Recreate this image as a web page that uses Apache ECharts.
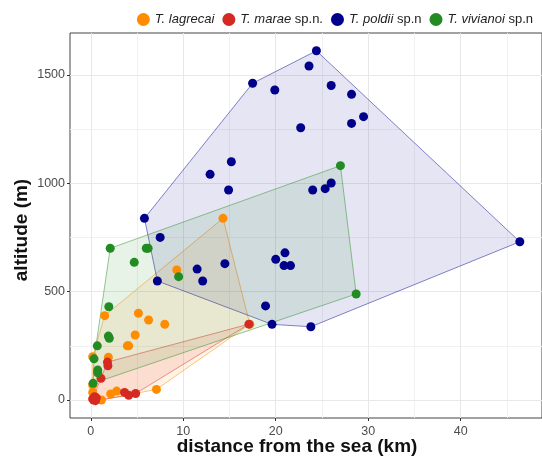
<!DOCTYPE html>
<html><head><meta charset="utf-8">
<script src="https://cdn.jsdelivr.net/npm/echarts@6/dist/echarts.min.js"></script>
<style>html,body{margin:0;padding:0;background:#fff}#c{width:542px;height:457px}</style>
</head><body><div id="c"></div>
<script>
// species names
const species = ['T. lagrecai', 'T. marae', 'T. poldii', 'T. vivianoi'];
const speciesSuffix = ['', ' sp.n.', ' sp.n', ' sp.n'];
const colors = ['#FF8C00', '#D42A22', '#00008B', '#228B22'];

// [distance km, altitude m]
const lagrecai = [[14.3,838],[9.3,600],[1.5,389],[5.15,400],[6.25,369],[8.0,349],[4.8,300],[3.95,250],[4.1,250],
  [1.9,197],[0.2,200],[0.2,69],[0.2,35],[2.15,28],[2.8,41],[7.1,49],[1.15,0],[0.3,10],[17.2,350],[0.6,5]];
const marae = [[17.1,350],[1.8,175],[1.85,158],[1.1,100],[3.65,35],[4.1,22],[4.85,30],[0.2,5],[0.4,15],[0.6,10],[0.3,0],[0.5,-3]];
const poldii = [[24.4,1611],[23.6,1541],[17.5,1461],[19.9,1430],[26.0,1451],[28.2,1410],[29.5,1307],[28.2,1276],[22.7,1256],
  [15.2,1099],[12.9,1041],[14.9,969],[24.0,969],[25.35,975],[26.0,1001],[5.8,838],[7.5,750],[7.2,549],[11.5,604],[12.1,549],
  [14.5,629],[18.9,434],[19.6,349],[23.8,338],[46.4,730],[20.0,649],[21.0,679],[20.9,620],[21.6,620]];
const vivianoi = [[27.0,1081],[28.7,489],[2.1,700],[6.0,700],[6.2,700],[4.7,635],[9.5,569],[1.95,430],[1.9,295],[2.0,285],
  [0.7,250],[0.35,190],[0.75,138],[0.75,126],[0.25,77]];
const groups = [lagrecai, marae, poldii, vivianoi];

// tick labels
const xTicks = [0, 10, 20, 30, 40];
const xMinor = [5, 15, 25, 35, 45];
const yTicks = [0, 500, 1000, 1500];
const yMinor = [250, 750, 1250];

function hull(pts) {
  const p = pts.slice().sort((a, b) => a[0] - b[0] || a[1] - b[1]);
  const cross = (o, a, b) => (a[0]-o[0])*(b[1]-o[1]) - (a[1]-o[1])*(b[0]-o[0]);
  const lower = [], upper = [];
  for (const q of p) { while (lower.length >= 2 && cross(lower[lower.length-2], lower[lower.length-1], q) <= 0) lower.pop(); lower.push(q); }
  for (let i = p.length - 1; i >= 0; i--) { const q = p[i]; while (upper.length >= 2 && cross(upper[upper.length-2], upper[upper.length-1], q) <= 0) upper.pop(); upper.push(q); }
  upper.pop(); lower.pop();
  return lower.concat(upper);
}

function rgba(hex, a) {
  const n = parseInt(hex.slice(1), 16);
  return 'rgba(' + (n >> 16 & 255) + ',' + (n >> 8 & 255) + ',' + (n & 255) + ',' + a + ')';
}

const series = [];
// grid lines
const gridLines = [];
xMinor.forEach(v => gridLines.push({xAxis: v, lineStyle: {color: '#f1f1f1', width: 1}}));
yMinor.forEach(v => gridLines.push({yAxis: v, lineStyle: {color: '#f1f1f1', width: 1}}));
xTicks.forEach(v => gridLines.push({xAxis: v, lineStyle: {color: '#e8e8e8', width: 1}}));
yTicks.forEach(v => gridLines.push({yAxis: v, lineStyle: {color: '#e8e8e8', width: 1}}));
series.push({
  type: 'scatter', name: 'grid', data: [], silent: true, z: 0,
  markLine: {silent: true, symbol: 'none', label: {show: false}, animation: false, z: 0,
    lineStyle: {type: 'solid'}, data: gridLines}
});

groups.forEach((g, i) => {
  const h = hull(g);
  series.push({
    type: 'custom', name: 'hull' + i, silent: true, z: 1, clip: true,
    data: [[g[0][0], g[0][1]]],
    renderItem: function (params, api) {
      return {
        type: 'polygon',
        shape: {points: h.map(p => api.coord(p))},
        style: {fill: rgba(colors[i], 0.1), stroke: rgba(colors[i], 0.6), lineWidth: 0.8}
      };
    }
  });
});
groups.forEach((g, i) => {
  series.push({
    type: 'scatter', name: species[i], data: g, symbolSize: 9, z: 3,
    itemStyle: {color: colors[i], opacity: 1}
  });
});

const chart = echarts.init(document.getElementById('c'), null, {renderer: 'canvas'});
chart.setOption({
  animation: false,
  backgroundColor: '#fff',
  textStyle: {fontFamily: 'Liberation Sans'},
  grid: {left: 70, top: 33, right: -9, bottom: 39, show: true, borderColor: '#444', borderWidth: 1, backgroundColor: '#fff'},
  legend: {
    data: species, right: 4, top: 8, itemWidth: 13, itemHeight: 13, itemGap: 8, icon: 'circle',
    textStyle: {fontSize: 13, color: '#222', fontFamily: 'Liberation Sans',
      rich: {i: {fontStyle: 'italic', fontSize: 13, color: '#222'}, n: {fontSize: 13, color: '#222'}}},
    formatter: function (name) {
      const k = species.indexOf(name);
      return '{i|' + name + '}' + (speciesSuffix[k] ? '{n|' + speciesSuffix[k] + '}' : '');
    }
  },
  xAxis: {
    type: 'value', min: -2.25, max: 48.8,
    axisLine: {show: false, onZero: false},
    splitLine: {show: false},
    axisTick: {show: true, inside: false, customValues: xTicks, length: 3, lineStyle: {color: '#333'}},
    axisLabel: {customValues: xTicks, color: '#4d4d4d', fontSize: 12.5, margin: 7, formatter: v => String(v)}
  },
  yAxis: {
    type: 'value', min: -83, max: 1693,
    axisLine: {show: false, onZero: false},
    splitLine: {show: false},
    axisTick: {show: true, inside: false, customValues: yTicks, length: 3, lineStyle: {color: '#333'}},
    axisLabel: {customValues: yTicks, color: '#4d4d4d', fontSize: 12.5, margin: 5, formatter: v => String(v)}
  },
  graphic: [
    {type: 'text', x: 297, y: 447, style: {text: 'distance from the sea (km)', x: 0, y: 0, align: 'center', verticalAlign: 'middle',
      font: 'bold 19px "Liberation Sans"', fill: '#111'}},
    {type: 'text', x: 22, y: 230, rotation: Math.PI / 2, style: {text: 'altitude (m)', x: 0, y: 0, align: 'center', verticalAlign: 'middle',
      font: 'bold 19px "Liberation Sans"', fill: '#111'}}
  ],
  series: series
});
</script></body></html>
